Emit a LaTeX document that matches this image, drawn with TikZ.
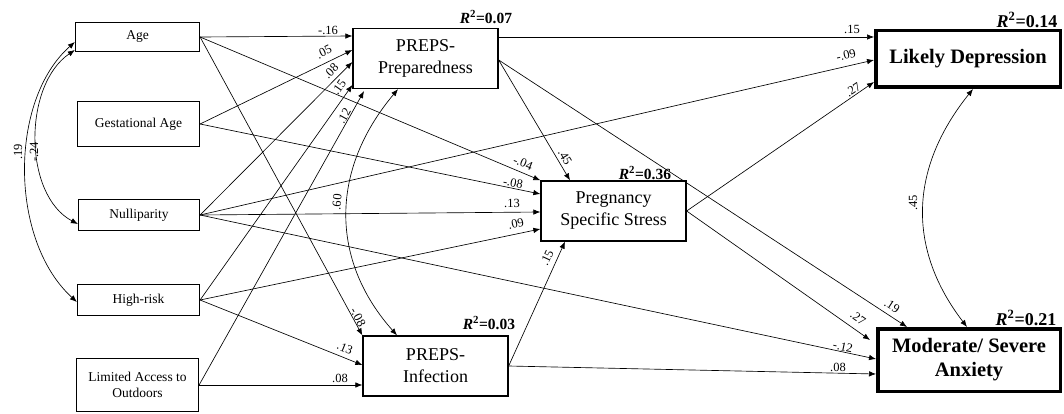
\documentclass[tikz,border=0pt]{standalone}
\usepackage{fontspec}
\setmainfont{Liberation Serif}
\usetikzlibrary{arrows.meta,calc}
\begin{document}
\begin{tikzpicture}[x=1pt,y=-1pt,
  inbox/.style={draw, line width=1.2pt, inner sep=0pt, align=center, font=\fontsize{13.5}{16}\selectfont},
  medbox/.style={draw, line width=1.3pt, inner sep=0pt, align=center, minimum width=145pt, minimum height=60pt, font=\fontsize{18}{22}\selectfont},
  outbox/.style={draw, line width=3.5pt, inner sep=0pt, align=center, font=\fontsize{20.5}{24}\selectfont\bfseries},
  conn/.style={line width=0.65pt, -{Latex[length=7pt,width=5.5pt]}},
  cov/.style={line width=0.65pt, {Latex[length=7pt,width=5.5pt]}-{Latex[length=7pt,width=5.5pt]}},
  coef/.style={font=\fontsize{12.5}{14}\selectfont, inner sep=0pt},
  rsq/.style={font=\fontsize{15.5}{18}\selectfont\bfseries, inner sep=0pt},
  rsqbig/.style={font=\fontsize{18}{20}\selectfont\bfseries, inner sep=0pt}
]
\useasboundingbox (0,0) rectangle (1064,414);

% exogenous boxes
\node[inbox, minimum width=124pt, minimum height=29pt] (age) at (137.5,37) {Age};
\node[inbox, minimum width=122pt, minimum height=45pt] (ga) at (138.5,124) {Gestational Age};
\node[inbox, minimum width=121pt, minimum height=31pt] (nul) at (139,215) {Nulliparity};
\node[inbox, minimum width=122pt, minimum height=31pt] (hr) at (138.5,300) {High-risk};
\node[inbox, minimum width=122pt, minimum height=53pt] (la) at (137.5,385) {Limited Access to\\Outdoors};
% mediators
\node[medbox] (prep) at (425.5,58.5) {PREPS-\\Preparedness};
\node[medbox] (pss) at (613.5,211) {Pregnancy\\Specific Stress};
\node[medbox] (inf) at (435.5,366) {PREPS-\\Infection};
% outcomes
\node[outbox, minimum width=184.5pt, minimum height=56.5pt] (dep) at (968,59) {Likely Depression};
\node[outbox, minimum width=182.5pt, minimum height=62.5pt] (anx) at (969,360) {Moderate/ Severe\\Anxiety};

% R squared
\node[rsq] (r1) at (486,17) {\textit{R}\textsuperscript{2}=0.07};
\node[rsq] (r2) at (645,173) {\textit{R}\textsuperscript{2}=0.36};
\node[rsq] (r3) at (489,323) {\textit{R}\textsuperscript{2}=0.03};
\node[rsqbig] (r4) at (1027,20) {\textit{R}\textsuperscript{2}=0.14};
\node[rsqbig] (r5) at (1026,318) {\textit{R}\textsuperscript{2}=0.21};

% paths
\draw[conn] (age.east) -- ($(prep.west)+(0,-22.5)$);
\draw[conn] (age.east) -- (pss.north west);
\draw[conn] (age.east) -- (inf.north west);
\draw[conn] (ga.east) -- ($(prep.west)+(0,-8.5)$);
\draw[conn] (ga.east) -- ($(pss.west)+(0,-17)$);
\draw[conn] (nul.east) -- ($(prep.west)+(0,3.5)$);
\draw[conn] (nul.east) -- ($(pss.west)+(0,1)$);
\draw[conn] (nul.east) -- ($(dep.west)+(0,1)$);
\draw[conn] (nul.east) -- ($(anx.west)+(0,-1)$);
\draw[conn] (hr.east) -- ($(prep.west)+(0,26.5)$);
\draw[conn] (hr.east) -- ($(pss.west)+(0,18)$);
\draw[conn] (hr.east) -- ($(inf.west)+(0,-1)$);
\draw[conn] (la.east) -- ($(prep.south)+(-61.5,2)$);
\draw[conn] (la.east) -- ($(inf.west)+(0,19)$);
\draw[conn] ($(prep.east)+(0,-21.5)$) -- ($(dep.west)+(0,-22)$);
\draw[conn] ($(prep.east)+(0,1.5)$) -- ($(pss.north)+(-43.5,0)$);
\draw[conn] ($(prep.east)+(0,1.5)$) -- ($(anx.north)+(-62,0)$);
\draw[conn] (pss.east) -- ($(dep.west)+(0,23)$);
\draw[conn] (pss.east) -- ($(anx.west)+(-6,-20)$);
\draw[conn] (inf.east) -- ($(pss.south)+(-48.5,0)$);
\draw[conn] (inf.east) -- ($(anx.west)+(0,14)$);

% covariances
\draw[cov] ($(prep.south)+(-27.5,0)$) .. controls (330,170) and (330,260) .. ($(inf.north)+(-38.5,0)$);
\draw[cov] ($(dep.south)+(5,0)$) .. controls (908,170) and (908,250) .. ($(anx.north)+(-2,0)$);
\draw[cov] ($(age.west)+(0,5)$) .. controls (9,100) and (9,240) .. ($(hr.west)+(0,2)$);
\draw[cov] ($(age.west)+(0,13)$) .. controls (23,85) and (23,195) .. ($(nul.west)+(0,9)$);

% coefficients
\node[coef] (c1) at (328,30) {-.16};
\node[coef, rotate=26] (c2) at (324,52) {.05};
\node[coef, rotate=45] (c3) at (331,71) {.08};
\node[coef, rotate=55] (c4) at (339,87) {.15};
\node[coef, rotate=61] (c5) at (344,116) {.12};
\node[coef, rotate=-22] (c6) at (523,163) {-.04};
\node[coef, rotate=-11] (c7) at (513,183) {-.08};
\node[coef] (c8) at (512,203) {.13};
\node[coef, rotate=12] (c9) at (516,224) {.09};
\node[coef, rotate=-62] (c10) at (358,317) {-.08};
\node[coef, rotate=-22] (c11) at (345,348) {.13};
\node[coef] (c12) at (340,378) {.08};
\node[coef] (c13) at (852,29) {.15};
\node[coef, rotate=13] (c14) at (846,55) {-.09};
\node[coef, rotate=34] (c15) at (853,90) {.27};
\node[coef, rotate=-59] (c16) at (565,157) {.45};
\node[coef, rotate=-33] (c17) at (892,306) {.19};
\node[coef, rotate=-35] (c18) at (858,318) {.27};
\node[coef, rotate=-12] (c19) at (843,347) {-.12};
\node[coef] (c20) at (838,367) {.08};
\node[coef, rotate=65] (c21) at (547,258) {.15};
\node[coef, rotate=90] (c22) at (913,203) {.45};
\node[coef, rotate=85] (c23) at (337,202) {.60};
\node[coef, rotate=90] (c24) at (34,152) {-.24};
\node[coef, rotate=90] (c25) at (18,152) {.19};
\end{tikzpicture}
\end{document}
